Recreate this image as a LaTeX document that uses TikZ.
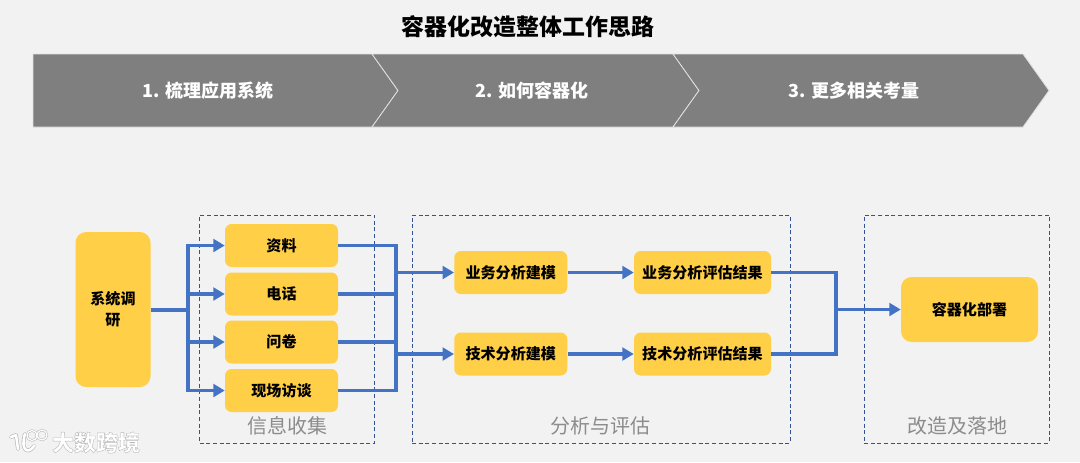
\documentclass[tikz,border=0pt]{standalone}
\usepackage{fontspec}
\usepackage{xcolor}
\usetikzlibrary{arrows.meta}
\setmainfont{Noto Sans CJK SC}
\definecolor{bgc}{HTML}{F2F2F2}
\definecolor{chev}{HTML}{7F7F7F}
\definecolor{gold}{HTML}{FFCF47}
\definecolor{flow}{HTML}{4472C4}
\definecolor{dash}{HTML}{2F5597}
\definecolor{lab}{HTML}{8C8C8C}
\tikzset{
  x=0.75pt,y=-0.75pt,
  chevshape/.style={fill=chev,draw=bgc!85!gray,line width=0.6pt,line join=miter},
  chevtext/.style={text=white,font=\fontsize{13.5}{16}\selectfont\bfseries,inner sep=0pt},
  boxbase/.style={fill=gold,text=black,font=\fontsize{11.3}{15.5}\selectfont\bfseries,align=center,inner sep=0pt},
  smallbox/.style={boxbase,rounded corners=5pt,minimum width=84.75pt,minimum height=32.25pt},
  evalbox/.style={boxbase,rounded corners=5pt,minimum width=102.75pt,minimum height=32.25pt},
  bigbox/.style={boxbase,rounded corners=8pt},
  group/.style={draw=dash,densely dashed,line width=0.6pt,inner sep=0pt},
  grouplabel/.style={text=lab,font=\fontsize{15}{18}\selectfont,inner sep=0pt},
  link/.style={draw=flow,line width=2.6pt,line join=miter},
  linkarrow/.style={link,-{Triangle[length=8.5pt,width=9.5pt]}},
  logoline/.style={line cap=round,line join=round},
}
\begin{document}
\begin{tikzpicture}
\useasboundingbox (0,0) rectangle (1080,462);
\fill[bgc] (0,0) rectangle (1080,462);

% title
\node[inner sep=0pt,font=\fontsize{17.2}{20}\selectfont\bfseries,text=black] (title) at (528,27) {容器化改造整体工作思路};

% chevrons
\path[chevshape] (33,54) -- (372,54) -- (398,90.5) -- (372,127) -- (33,127) -- cycle;
\path[chevshape] (372,54) -- (673,54) -- (699,90.5) -- (673,127) -- (372,127) -- (398,90.5) -- cycle;
\path[chevshape] (673,54) -- (1023,54) -- (1049,90.5) -- (1023,127) -- (673,127) -- (699,90.5) -- cycle;
\node[chevtext] (c1) at (208,90.5) {1. 梳理应用系统};
\node[chevtext] (c2) at (532,90.5) {2. 如何容器化};
\node[chevtext] (c3) at (854,90.5) {3. 更多相关考量};

% dashed groups
\node[group,minimum width=131.25pt,minimum height=171pt] (g1) at (287,329) {};
\node[group,minimum width=283.5pt,minimum height=171pt] (g2) at (601,329) {};
\node[group,minimum width=138.75pt,minimum height=171pt] (g3) at (956.5,329) {};
\node[grouplabel] (l1) at (287.5,426) {信息收集};
\node[grouplabel] (l2) at (600.5,426) {分析与评估};
\node[grouplabel] (l3) at (957,426) {改造及落地};

% boxes
\node[bigbox,minimum width=56.25pt,minimum height=116.25pt] (sys) at (113,309.5) {系统调\\研};
\node[smallbox] (a1) at (281.5,245.5) {资料};
\node[smallbox] (a2) at (281.5,294) {电话};
\node[smallbox] (a3) at (281.5,342) {问卷};
\node[smallbox] (a4) at (281.5,390.5) {现场访谈};
\node[smallbox] (b1) at (510.75,272.5) {业务分析建模};
\node[smallbox] (b2) at (510.75,354) {技术分析建模};
\node[evalbox] (e1) at (702.5,272.5) {业务分析评估结果};
\node[evalbox] (e2) at (702.5,354) {技术分析评估结果};
\node[bigbox,minimum width=102.75pt,minimum height=48.75pt] (dep) at (969.5,309.5) {容器化部署};

% junctions
\coordinate (jl) at (188,310);
\coordinate (jm) at (396,318);
\coordinate (jr) at (836,309.5);

% connectors
\draw[link] (sys.east |- jl) -- (jl);
\draw[linkarrow] (jl) |- (a1.west);
\draw[linkarrow] (jl) |- (a2.west);
\draw[linkarrow] (jl) |- (a3.west);
\draw[linkarrow] (jl) |- (a4.west);
\draw[link] (a1.east) -| (jm);
\draw[link] (a2.east) -| (jm);
\draw[link] (a3.east) -| (jm);
\draw[link] (a4.east) -| (jm);
\draw[linkarrow] (jm |- b1.west) -- (b1.west);
\draw[linkarrow] (jm |- b2.west) -- (b2.west);
\draw[linkarrow] (b1.east) -- (e1.west);
\draw[linkarrow] (b2.east) -- (e2.west);
\draw[link] (e1.east) -| (jr);
\draw[link] (e2.east) -| (jr);
\draw[linkarrow] (jr) -- (dep.west |- jr);

% watermark
\foreach \lw/\lc/\cw in {2.9pt/black!28/1.7pt,1.9pt/white/0.9pt}{
  \draw[logoline,draw=\lc,line width=\lw] (11,437) -- (16,435) -- (18,449);
  \draw[logoline,draw=\lc,line width=\lw] (25,434) .. controls (20,450) and (28,455) .. (34,446);
  \draw[draw=\lc,line width=\cw] (32,435.5) circle (5);
  \draw[draw=\lc,line width=\cw] (42,435) circle (5);
}
\node[inner sep=0pt,text=white,font=\fontsize{16.5}{20}\selectfont\bfseries] (wm) at (96,442.5) {\special{pdf:code 2 Tr 0.3 w 0.72 G}大数跨境\special{pdf:code 0 Tr}};
\end{tikzpicture}
\end{document}
